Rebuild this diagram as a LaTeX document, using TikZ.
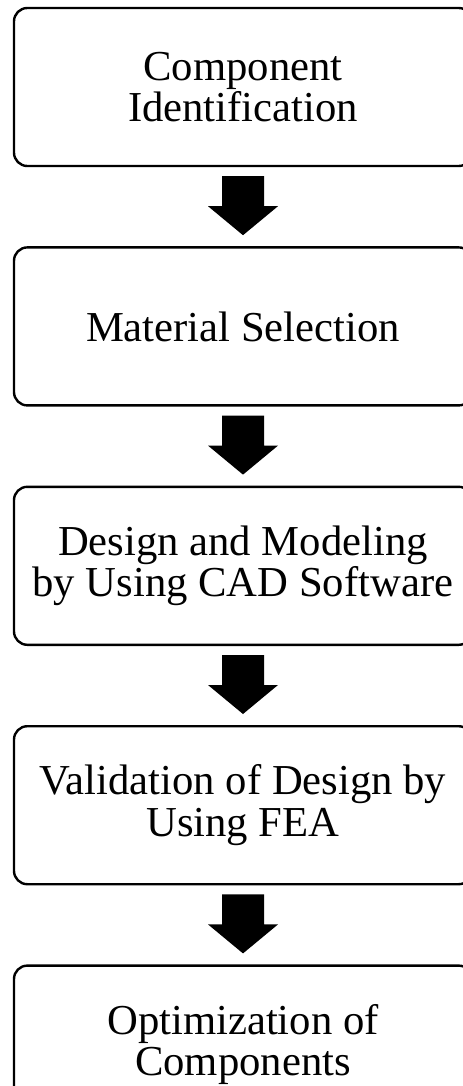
\documentclass[tikz,border=0pt]{standalone}
\usepackage{fontspec}
\setmainfont{Liberation Serif}
\usetikzlibrary{positioning}
\tikzset{
  box/.style={draw=black,line width=1.8pt,rounded corners=10pt,fill=white,align=center,
    minimum width=343.5pt,minimum height=118.5pt,inner sep=0pt,
    font=\fontsize{32}{31}\selectfont},
  % block arrow from the foot of one box to the head of the next
  ar/.style={fill=black,to path={
    ([xshift=-15.75pt,yshift=-6.75pt]\tikztostart) -- ++(31.5pt,0) -- ++(0,-22.5pt)
    -- ++(10.5pt,0) -- ([yshift=8.25pt]\tikztotarget) -- ++(-26.25pt,21.75pt)
    -- ++(10.5pt,0) -- cycle}},
}
\begin{document}
\begin{tikzpicture}[node distance=59.25pt]
\useasboundingbox (0,0) rectangle (347.25pt,-814.5pt);
\clip (0,0) rectangle (347.25pt,-814.5pt);
% steps
\node[box] (comp) at (182.25pt,-65.25pt) {Component\\Identification};
\node[box,below=of comp] (mat) {Material Selection};
\node[box,below=of mat] (cad) {Design and Modeling\\by Using CAD Software};
\node[box,below=of cad] (fea) {Validation of Design by\\Using FEA};
\node[box,below=of fea] (opt) {Optimization of\\Components};
% block arrows
\path[ar] (comp.south) to (mat.north);
\path[ar] (mat.south) to (cad.north);
\path[ar] (cad.south) to (fea.north);
\path[ar] (fea.south) to (opt.north);
\end{tikzpicture}
\end{document}
